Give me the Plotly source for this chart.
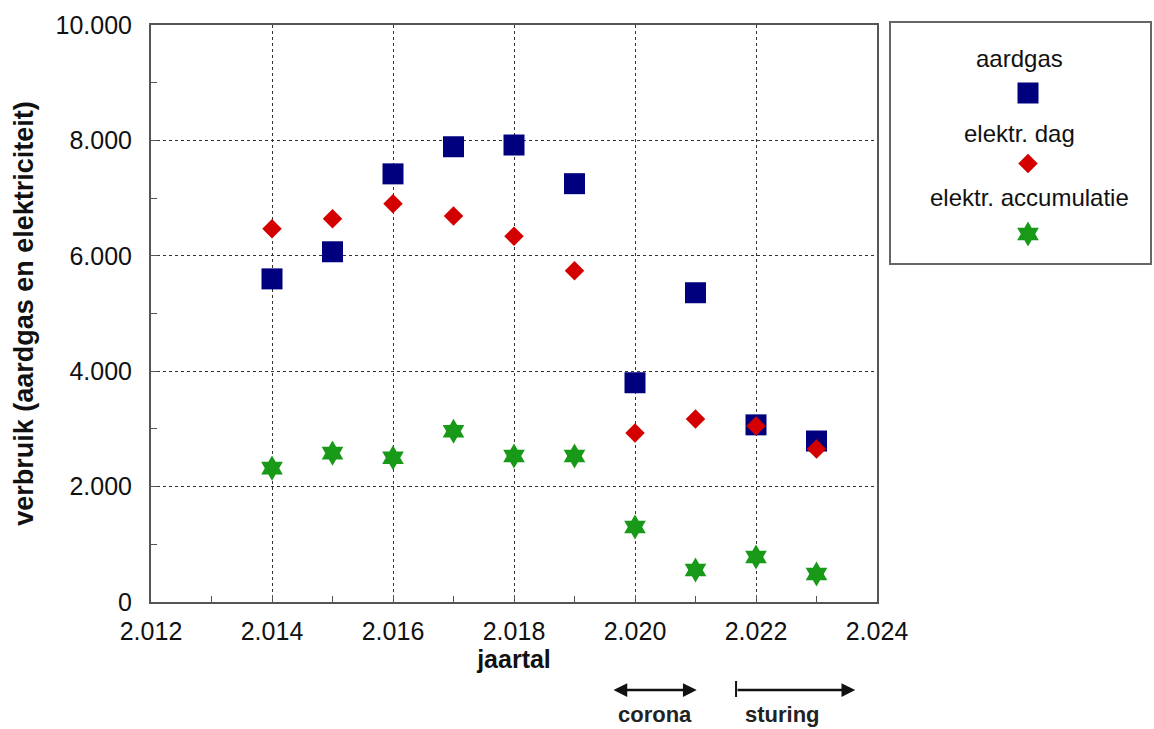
import plotly.graph_objects as go

years = [2014, 2015, 2016, 2017, 2018, 2019, 2020, 2021, 2022, 2023]
aardgas = [5600, 6070, 7420, 7890, 7920, 7250, 3800, 5360, 3070, 2790]
elektr_dag = [6470, 6640, 6900, 6690, 6340, 5740, 2930, 3170, 3050, 2650]
elektr_accu = [2320, 2580, 2500, 2960, 2530, 2530, 1300, 555, 780, 485]

series_names = ["aardgas", "elektr. dag", "elektr. accumulatie"]
series_colors = ["#00007f", "#d40000", "#189a18"]
series_symbols = ["square", "diamond", "hexagram"]
series_sizes = [21, 15, 19]
series_values = [aardgas, elektr_dag, elektr_accu]

FONT = "Liberation Sans, Arial, sans-serif"
W, H = 1154, 729
L, R, T, B = 151, 2, 25, 127
PW, PH = W - L - R, H - T - B
MAIN_W = (877 - L) / PW

fig = go.Figure()
for name, vals, col, sym, sz in zip(series_names, series_values, series_colors, series_symbols, series_sizes):
    fig.add_trace(go.Scatter(x=years, y=vals, mode="markers", name=name,
                             marker=dict(symbol=sym, size=sz, color=col, line=dict(width=0)),
                             showlegend=False, cliponaxis=False))

# custom legend (text above marker), markers on an auxiliary axis (pixel-like units)
for i, (name, col, sym, sz) in enumerate(zip(series_names, series_colors, series_symbols, series_sizes)):
    row = 93 + i * 70.5
    fig.add_trace(go.Scatter(x=[1028], y=[row], mode="markers", xaxis="x2", yaxis="y2",
                             marker=dict(symbol=sym, size=sz, color=col, line=dict(width=0)),
                             showlegend=False, hoverinfo="skip", cliponaxis=False))
    fig.add_annotation(x=1019 if i < 2 else 1029, y=row - (35 if i == 0 else (30 if i == 1 else 37)),
                       xref="x2", yref="y2",
                       text=name, showarrow=False, font=dict(family=FONT, size=24, color="#111"))

fig.add_shape(type="rect", xref="paper", yref="paper",
              x0=(890 - L) / PW, x1=(1151 - L) / PW,
              y0=(602 - 264) / PH, y1=(602 - 22) / PH,
              line=dict(color="#666", width=2), fillcolor="rgba(0,0,0,0)")

# bottom period arrows
arrow_y = (602 - 690) / PH
fig.add_annotation(x=2021.02, y=arrow_y, ax=2019.62, ay=0, xref="x", yref="paper",
                   axref="x", ayref="pixel", showarrow=True, arrowhead=2, arrowside="end+start",
                   arrowsize=1.1, arrowwidth=2.5, arrowcolor="#111", text="")
fig.add_annotation(x=2023.64, y=arrow_y, ax=2021.67, ay=0, xref="x", yref="paper",
                   axref="x", ayref="pixel", showarrow=True, arrowhead=2, arrowside="end",
                   arrowsize=1.1, arrowwidth=2.5, arrowcolor="#111", text="")
fig.add_shape(type="line", xref="x", yref="paper", x0=2021.67, x1=2021.67,
              y0=(602 - 681) / PH, y1=(602 - 697) / PH, line=dict(color="#111", width=2))
fig.add_annotation(x=2020.33, y=(602 - 714) / PH, xref="x", yref="paper", showarrow=False,
                   yanchor="middle", text="<b>corona</b>", font=dict(family=FONT, size=22, color="#222"))
fig.add_annotation(x=2022.43, y=(602 - 714) / PH, xref="x", yref="paper", showarrow=False,
                   yanchor="middle", text="<b>sturing</b>", font=dict(family=FONT, size=22, color="#222"))

axis_common = dict(showgrid=True, gridcolor="#333", griddash="3px,3px", gridwidth=1.3,
                   showline=True, linecolor="#555", linewidth=2, mirror=True,
                   ticks="inside", ticklen=7, tickcolor="#555", zeroline=False, automargin=False,
                   tickfont=dict(family=FONT, size=25, color="#111"))

fig.update_layout(
    width=W, height=H,
    margin=dict(l=L, r=R, t=T, b=B),
    paper_bgcolor="white", plot_bgcolor="white",
    separators=",.",
    font=dict(family=FONT, size=25, color="#111"),
    xaxis=dict(domain=[0, MAIN_W], range=[2012, 2024], dtick=2, tick0=2012, tickformat=",d",
               minor=dict(dtick=1, ticks="inside", ticklen=6, tickcolor="#555", showgrid=False),
               ticklabelstandoff=6,
               title=dict(text="<b>jaartal</b>", font=dict(family=FONT, size=25, color="#111"), standoff=4),
               **axis_common),
    yaxis=dict(range=[0, 10000], dtick=2000, tickformat=",d",
               minor=dict(dtick=1000, ticks="inside", ticklen=6, tickcolor="#555", showgrid=False),
               ticklabelstandoff=12,
               title=dict(text="<b>verbruik (aardgas en elektriciteit)</b>",
                          font=dict(family=FONT, size=27, color="#111"), standoff=14),
               **axis_common),
    xaxis2=dict(domain=[(890 - L) / PW, 1], range=[890, 890 + PW * (1 - (890 - L) / PW)],
                visible=False, anchor="y2", automargin=False),
    yaxis2=dict(domain=[(602 - 264) / PH, 1], range=[264, 25], visible=False, anchor="x2",
                automargin=False),
)

fig.write_html("out.html", config={"displayModeBar": False},
               post_script="document.body.style.margin='0';document.body.style.overflow='hidden';")
